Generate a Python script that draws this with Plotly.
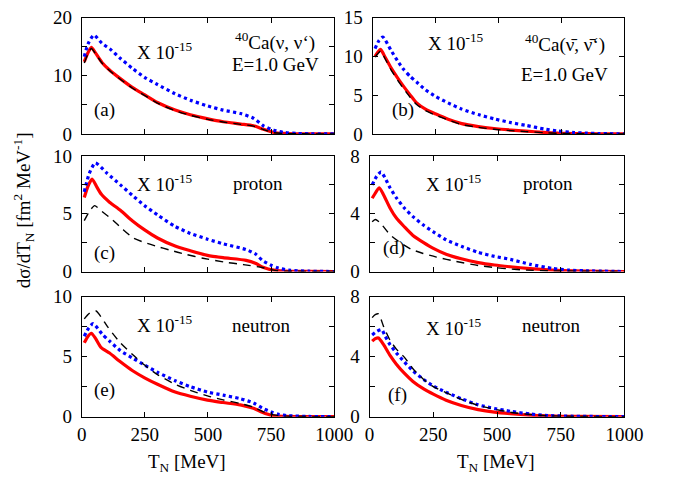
import plotly.graph_objects as go

W, H = 693, 488

# ---------------- data ----------------
a_red_T = [10, 25, 38, 55, 80, 110, 150, 200, 250, 300, 370, 430, 500, 560, 630, 680, 720, 760, 800, 850, 900, 1000]
a_red_y = [12.4, 14.0, 14.9, 13.9, 12.3, 11.0, 9.6, 8.0, 6.7, 5.4, 4.1, 3.3, 2.6, 2.1, 1.7, 1.4, 0.8, 0.25, 0.08, 0.03, 0.01, 0.0]
a_blk_T = [10, 25, 38, 55, 80, 110, 150, 200, 250, 300, 370, 430, 500, 560, 630, 680, 720, 760, 800, 850, 900, 1000]
a_blk_y = [12.2, 13.8, 14.7, 13.8, 12.2, 10.9, 9.5, 7.9, 6.6, 5.3, 4.0, 3.2, 2.5, 2.05, 1.65, 1.35, 0.75, 0.22, 0.07, 0.03, 0.01, 0.0]
a_blu_T = [10, 25, 48, 80, 115, 150, 200, 250, 300, 370, 430, 500, 560, 630, 680, 720, 760, 800, 850, 900, 1000]
a_blu_y = [13.3, 15.5, 17.0, 15.6, 14.5, 13.1, 11.3, 9.7, 8.5, 6.9, 5.8, 4.8, 4.1, 3.5, 2.7, 1.4, 0.65, 0.25, 0.08, 0.03, 0.0]

b_red_T = [10, 20, 32, 50, 73, 100, 124, 150, 175, 210, 252, 300, 354, 420, 482, 550, 609, 680, 737, 800, 900, 1000]
b_red_y = [10.0, 10.5, 10.9, 9.9, 8.55, 7.2, 6.1, 5.0, 4.0, 3.2, 2.56, 1.9, 1.33, 0.95, 0.7, 0.5, 0.37, 0.2, 0.1, 0.05, 0.02, 0.0]
b_blk_T = [10, 20, 32, 50, 73, 100, 124, 150, 175, 210, 252, 300, 354, 420, 482, 550, 609, 680, 737, 800, 900, 1000]
b_blk_y = [9.9, 10.3, 10.7, 9.7, 8.3, 6.9, 5.8, 4.7, 3.8, 3.0, 2.4, 1.8, 1.2, 0.85, 0.6, 0.42, 0.3, 0.16, 0.08, 0.04, 0.01, 0.0]
b_blu_T = [10, 25, 41, 73, 100, 124, 150, 175, 210, 252, 300, 354, 420, 482, 550, 609, 680, 737, 800, 850, 900, 1000]
b_blu_y = [11.0, 12.0, 12.5, 10.8, 9.4, 8.3, 7.4, 6.7, 5.7, 4.8, 4.0, 3.2, 2.5, 1.95, 1.45, 1.1, 0.65, 0.37, 0.18, 0.1, 0.05, 0.0]

c_red_T = [10, 25, 41, 60, 77, 110, 153, 200, 249, 300, 370, 430, 498, 560, 651, 690, 715, 766, 800, 900, 1000]
c_red_y = [6.4, 7.4, 8.0, 7.3, 6.7, 6.0, 5.3, 4.4, 3.6, 2.9, 2.2, 1.8, 1.4, 1.2, 0.97, 0.7, 0.4, 0.1, 0.04, 0.01, 0.0]
c_blu_T = [10, 30, 54, 100, 153, 200, 249, 300, 370, 430, 498, 560, 651, 690, 715, 750, 779, 820, 900, 1000]
c_blu_y = [6.9, 8.5, 9.4, 8.5, 7.5, 6.6, 5.7, 4.9, 3.9, 3.3, 2.8, 2.4, 1.9, 1.5, 0.97, 0.55, 0.3, 0.12, 0.03, 0.0]
c_blk_T = [10, 30, 51, 80, 115, 160, 204, 250, 294, 350, 409, 480, 562, 640, 715, 766, 800, 1000]
c_blk_y = [4.4, 5.2, 5.7, 5.2, 4.6, 3.7, 2.9, 2.5, 2.2, 1.85, 1.5, 1.15, 0.83, 0.6, 0.35, 0.1, 0.04, 0.0]

d_red_T = [10, 25, 38, 55, 80, 105, 136, 170, 212, 250, 300, 360, 426, 490, 552, 630, 716, 800, 900, 1000]
d_red_y = [5.07, 5.5, 5.8, 5.3, 4.4, 3.7, 3.1, 2.5, 2.0, 1.6, 1.2, 0.88, 0.62, 0.45, 0.33, 0.2, 0.1, 0.04, 0.01, 0.0]
d_blu_T = [10, 28, 45, 60, 80, 105, 136, 170, 212, 250, 300, 360, 426, 490, 552, 630, 716, 780, 850, 1000]
d_blu_y = [6.0, 6.6, 6.9, 6.5, 5.8, 5.1, 4.4, 3.8, 3.2, 2.75, 2.2, 1.75, 1.33, 1.05, 0.84, 0.5, 0.22, 0.1, 0.05, 0.0]
d_blk_T = [10, 22, 40, 80, 120, 162, 210, 262, 340, 426, 520, 615, 700, 1000]
d_blk_y = [3.44, 3.6, 3.4, 2.55, 2.0, 1.55, 1.25, 1.0, 0.7, 0.42, 0.22, 0.1, 0.05, 0.0]

e_red_T = [10, 25, 38, 55, 77, 110, 153, 200, 249, 300, 370, 430, 498, 560, 628, 680, 715, 754, 800, 900, 1000]
e_red_y = [6.15, 6.7, 6.95, 6.5, 5.75, 5.3, 4.57, 3.85, 3.24, 2.7, 2.05, 1.7, 1.38, 1.18, 0.98, 0.7, 0.37, 0.1, 0.03, 0.01, 0.0]
e_blu_T = [10, 28, 45, 80, 110, 153, 200, 249, 300, 370, 430, 498, 560, 628, 680, 715, 750, 779, 820, 900, 1000]
e_blu_y = [6.7, 7.4, 7.75, 6.9, 6.3, 5.5, 4.9, 4.3, 3.7, 3.0, 2.5, 2.05, 1.8, 1.5, 1.15, 0.72, 0.4, 0.2, 0.08, 0.02, 0.0]
e_blk_T = [10, 30, 57, 80, 102, 153, 200, 249, 300, 370, 430, 498, 560, 628, 680, 715, 760, 800, 1000]
e_blk_y = [8.15, 8.6, 8.8, 8.2, 7.5, 6.15, 5.2, 4.3, 3.5, 2.7, 2.2, 1.73, 1.4, 1.1, 0.8, 0.45, 0.15, 0.05, 0.0]

f_red_T = [10, 22, 35, 55, 80, 105, 136, 170, 212, 250, 300, 360, 426, 490, 552, 630, 700, 800, 1000]
f_red_y = [5.03, 5.2, 5.25, 4.8, 4.08, 3.5, 2.9, 2.35, 1.85, 1.5, 1.1, 0.75, 0.47, 0.3, 0.2, 0.1, 0.05, 0.02, 0.0]
f_blu_T = [10, 30, 48, 60, 80, 105, 136, 170, 212, 250, 300, 360, 426, 490, 552, 630, 700, 800, 1000]
f_blu_y = [5.45, 5.7, 5.8, 5.4, 4.8, 4.25, 3.65, 3.05, 2.48, 2.05, 1.63, 1.2, 0.79, 0.55, 0.36, 0.18, 0.08, 0.03, 0.0]
f_blk_T = [10, 22, 35, 55, 80, 105, 136, 170, 212, 250, 300, 360, 426, 490, 552, 630, 700, 800, 1000]
f_blk_y = [6.6, 6.8, 6.85, 6.0, 5.1, 4.5, 3.97, 3.2, 2.48, 2.0, 1.6, 1.15, 0.75, 0.5, 0.3, 0.15, 0.06, 0.02, 0.0]

y_ranges = {"a": 20, "b": 15, "c": 10, "d": 8, "e": 10, "f": 8}
y_major = {"a": 10, "b": 5, "c": 5, "d": 4, "e": 5, "f": 4}
y_minor = {"a": 5, "b": 5, "c": 2.5, "d": 2, "e": 2.5, "f": 2}

series = {
    "a": [(a_red_T, a_red_y), (a_blu_T, a_blu_y), (a_blk_T, a_blk_y)],
    "b": [(b_red_T, b_red_y), (b_blu_T, b_blu_y), (b_blk_T, b_blk_y)],
    "c": [(c_red_T, c_red_y), (c_blu_T, c_blu_y), (c_blk_T, c_blk_y)],
    "d": [(d_red_T, d_red_y), (d_blu_T, d_blu_y), (d_blk_T, d_blk_y)],
    "e": [(e_red_T, e_red_y), (e_blu_T, e_blu_y), (e_blk_T, e_blk_y)],
    "f": [(f_red_T, f_red_y), (f_blu_T, f_blu_y), (f_blk_T, f_blk_y)],
}

boxes = {  # left, right, top, bottom in pixels
    "a": (79.5, 341.0, 8.0, 129.5),
    "b": (380.7, 641.7, 8.0, 129.5),
    "c": (79.5, 341.0, 152.5, 273.3),
    "d": (377.7, 641.7, 152.5, 273.3),
    "e": (79.5, 341.0, 299.5, 425.0),
    "f": (377.7, 641.7, 299.5, 425.0),
}

FONT = "Liberation Serif"
FS = 19

styles = [
    dict(color="#ff0000", width=3.2, dash="solid"),
    dict(color="#0000ff", width=3.2, dash="dot"),
    dict(color="#000000", width=1.4, dash="8px,6px"),
]

fig = go.Figure()
layout = dict(
    width=W, height=H, margin=dict(l=0, r=0, t=0, b=0),
    paper_bgcolor="white", plot_bgcolor="white", showlegend=False,
    font=dict(family=FONT, size=FS, color="black"),
)

for i, key in enumerate(["a", "b", "c", "d", "e", "f"]):
    n = i + 1
    xa = "x" if n == 1 else f"x{n}"
    ya = "y" if n == 1 else f"y{n}"
    l, r, t, b = boxes[key]
    for (T, Y), st in zip(series[key], styles):
        fig.add_trace(go.Scatter(x=T, y=Y, mode="lines", xaxis=xa, yaxis=ya,
                                 line=dict(color=st["color"], width=st["width"], dash=st["dash"],
                                           shape="spline", smoothing=0.6),
                                 hoverinfo="skip"))
    common = dict(showline=True, linecolor="black", linewidth=1, mirror="ticks",
                  ticks="inside", ticklen=5, tickcolor="black", tickwidth=1,
                  showgrid=False, zeroline=False, tickfont=dict(family=FONT, size=FS))
    layout["xaxis" if n == 1 else f"xaxis{n}"] = dict(
        common, domain=[l / W, r / W], range=[0, 1000], anchor=ya,
        tickmode="linear", tick0=0, dtick=250,
        showticklabels=key in ("e", "f"))
    layout["yaxis" if n == 1 else f"yaxis{n}"] = dict(
        common, domain=[1 - b / H, 1 - t / H], range=[0, y_ranges[key]], anchor=xa,
        tickmode="linear", tick0=0, dtick=y_major[key], ticklabelstandoff=5,
        minor=dict(ticks="inside", ticklen=5, tickcolor="black", tick0=0, dtick=y_minor[key],
                   showgrid=False))

fig.update_layout(**layout)


def ann(x, y, text, xanchor="center", **kw):
    fig.add_annotation(x=x / W, y=1 - y / H, xref="paper", yref="paper", text=text,
                       showarrow=False, xanchor=xanchor, yanchor="middle", borderpad=0,
                       font=dict(family=FONT, size=FS, color="black"), **kw)


mult = "X 10<sup>-15</sup>"
ann(166, 43, mult)
ann(280, 33, "<sup>40</sup>Ca(ν, ν‘)")
ann(280, 57, "E=1.0 GeV")
ann(103, 105, "(a)")
ann(467, 33, mult)
ann(580, 35, "<sup>40</sup>Ca(ν̄, ν̄‘)")
ann(580, 67, "E=1.0 GeV")
ann(412, 105, "(b)")
ann(166, 181, mult)
ann(262, 181, "proton")
ann(103, 254, "(c)")
ann(465, 181, mult)
ann(562, 181, "proton")
ann(403, 249, "(d)")
ann(166, 328, mult)
ann(266, 330, "neutron")
ann(103, 397, "(e)")
ann(465, 331, mult)
ann(566, 330, "neutron")
ann(407, 402, "(f)")

ann(189, 473, "T<sub>N</sub> [MeV]")
ann(509, 473, "T<sub>N</sub> [MeV]")
ann(19, 209, "dσ/dT<sub>N</sub> [fm<sup>2</sup> MeV<sup>-1</sup>]", textangle=-90)

fig.write_html("out.html")
